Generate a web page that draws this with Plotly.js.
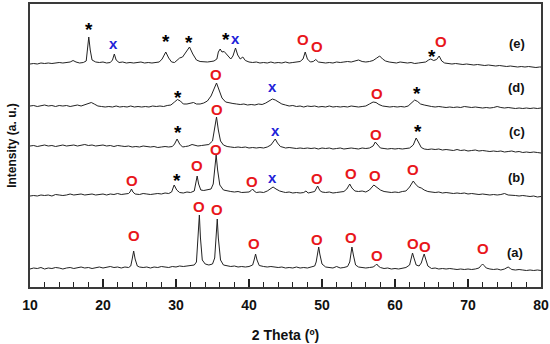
<!DOCTYPE html>
<html>
<head>
<meta charset="utf-8">
<script src="https://cdn.plot.ly/plotly-3.0.1.min.js"></script>
<style>html,body{margin:0;padding:0;background:#fff}#chart{width:550px;height:344px}</style>
</head>
<body>
<div id="chart"></div>
<script>
// XRD patterns: [2theta, intensity (a.u., stacked offsets)]
const seriesA = [[10,19],[10.5,20],[11,19.5],[11.5,20.5],[12,19],[12.5,20],[13,19.5],[13.5,20.5],[14,20],[14.5,19],[15,20],[15.5,20.5],[16,19.5],[16.5,20],[17,21],[17.5,20],[18,20.5],[18.5,19.5],[19,20],[19.5,21],[20,20],[20.5,20.5],[21,21.5],[21.5,20.5],[22,21],[22.5,20],[23,21],[23.5,20.5],[23.8,22],[24.0,29],[24.2,37],[24.4,29],[24.7,22],[25,21],[25.5,20.5],[26,21],[26.5,20],[27,21],[27.5,20.5],[28,21.5],[28.5,21],[29,20.5],[29.5,21.5],[30,21],[30.5,22],[31,21.5],[31.5,22],[32,22.5],[32.5,23],[32.8,26],[33.05,50],[33.2,73],[33.35,50],[33.6,28],[34,24],[34.5,23],[35,24],[35.3,30],[35.5,52],[35.65,69],[35.8,50],[36.1,28],[36.5,23],[37,22],[37.5,21.5],[38,22],[38.5,21],[39,21.5],[39.5,21],[40,21.5],[40.5,23],[40.7,28],[40.9,34],[41.1,28],[41.4,22.5],[42,21.5],[42.5,21],[43,21.5],[43.5,21],[44,20.5],[44.5,21],[45,20],[45.5,20.5],[46,20],[46.5,21],[47,20],[47.5,20.5],[48,20],[48.5,21],[49,22],[49.2,26],[49.4,36],[49.55,41],[49.7,34],[50,24],[50.5,21],[51,20.5],[51.5,20],[52,21.5],[52.5,20],[53,20.5],[53.5,21.5],[53.8,26],[54.0,37],[54.1,41],[54.3,33],[54.6,23],[55,21],[55.5,20.5],[56,20],[56.5,20.5],[57,21],[57.3,22.5],[57.5,24],[57.7,22],[58,20.5],[58.5,19.5],[59,20],[59.5,19],[60,19.5],[60.5,19],[61,20],[61.5,20.5],[62,23],[62.2,29],[62.4,35],[62.6,30],[62.9,23],[63.3,22],[63.6,25],[63.85,31],[64.0,34],[64.2,29],[64.5,22],[65,19.5],[65.5,20],[66,19],[66.5,19.5],[67,19],[67.5,19.5],[68,19],[68.5,18.5],[69,19],[69.5,18.5],[70,19],[70.5,18.5],[71,19],[71.5,20],[71.8,22.5],[72.0,24],[72.2,22.5],[72.5,20],[73,19],[73.5,18.5],[74,19],[74.5,18],[75,19],[75.3,20.5],[75.5,21],[75.8,19.5],[76,18.5],[76.5,18],[77,18.5],[77.5,18],[78,17.5],[78.5,18],[79,17.5],[79.5,18],[80,17.5]];

const seriesB = [[10,92],[10.5,92.5],[11,92],[11.5,93],[12,92.5],[12.5,93],[13,92],[13.5,93.5],[14,93],[14.5,92.5],[15,93],[15.5,94],[16,93],[16.5,93.5],[17,94],[17.5,93],[18,93.5],[18.5,94],[19,93],[19.5,93.5],[20,94],[20.5,93],[21,94],[21.5,93.5],[22,94.5],[22.5,93.5],[23,94],[23.5,94.5],[23.7,96],[23.9,99],[24.1,96],[24.4,94],[25,93.5],[25.5,94.5],[26,94],[26.5,93.5],[27,94],[27.5,94.5],[28,94],[28.5,95],[29,94.5],[29.4,96],[29.75,103],[30.1,98],[30.5,95.5],[31,95],[31.5,96],[32,95.5],[32.5,97],[32.75,106],[32.9,112],[33.1,104],[33.4,98],[33.8,97.5],[34.3,98],[34.8,99],[35.1,104],[35.35,122],[35.5,133],[35.7,118],[36,103],[36.5,98],[37,97],[37.5,96.5],[38,96],[38.5,96.5],[39,95.5],[39.5,96],[40,96],[40.3,97.5],[40.5,99],[40.7,97],[41,95.5],[41.5,96],[42,95.5],[42.5,97],[43,100],[43.3,101],[43.7,99],[44.2,97],[44.7,96],[45,95.5],[45.5,96],[46,95],[46.5,95.5],[47,95],[47.5,95.5],[47.8,97],[48.1,95],[48.5,95.5],[49,96.5],[49.4,102],[49.7,97.5],[50,96],[50.5,95.5],[51,96],[51.5,95],[52,95.5],[52.5,96],[53,96.5],[53.4,99],[53.8,104],[54.1,100],[54.5,97],[55,96.5],[55.5,97],[56,96],[56.5,98],[57.1,103],[57.5,101],[58,98],[58.5,96.5],[59,96],[59.5,95.5],[60,96],[60.5,95.5],[61,96.5],[61.5,97],[62,101],[62.5,107],[62.8,104],[63.2,101],[63.6,100],[64,98],[64.5,96.5],[65,96],[65.5,95.5],[66,96],[66.5,95],[67,95.5],[67.5,95],[68,94.5],[68.5,95],[69,94.5],[69.5,95],[70,94],[70.5,94.5],[71,94],[71.5,93.5],[72,94],[72.5,93.5],[73,93],[73.5,93.5],[74,93],[74.5,93.5],[75,94.5],[75.5,93],[76,93],[76.5,92.5],[77,92],[77.5,92.5],[78,92],[78.5,91.5],[79,92],[79.5,91],[80,91.5]];

const seriesC = [[10,142],[10.5,142.5],[11,141.5],[11.5,142],[12,143],[12.5,142],[13,142.5],[13.5,141.5],[14,142.5],[14.5,143],[15,142],[15.5,142.5],[16,143],[16.5,142],[17,142.5],[17.5,143.5],[18,142.5],[18.5,143],[19,142],[19.5,142.5],[20,143],[20.5,142],[21,142.5],[21.5,141.5],[22,142.5],[22.5,142],[23,141.5],[23.5,142],[24,141],[24.5,141.5],[25,141],[25.5,142],[26,141.5],[26.5,141],[27,141.5],[27.5,140.5],[28,141],[28.5,141.5],[29,141],[29.5,141.5],[29.8,144],[30.15,149],[30.5,144],[30.9,141],[31.3,141.5],[31.7,142],[32.2,143.5],[32.6,142.5],[33,142],[33.5,142.5],[34,143],[34.5,143.5],[35,147],[35.3,158],[35.55,171],[35.8,158],[36.1,147],[36.5,143],[37,141.5],[37.5,141],[38,140.5],[38.5,141],[39,140.5],[39.5,141],[40,140],[40.5,140.5],[41,140],[41.5,140.5],[42,140],[42.5,141],[43,143],[43.3,146],[43.6,149],[43.9,145],[44.3,141.5],[44.8,140.5],[45,140],[45.5,140.5],[46,140],[46.5,139.5],[47,140],[47.5,139.5],[48,140],[48.5,139.5],[49,140],[49.5,139],[50,140],[50.5,139.5],[51,140],[51.5,139],[52,139.5],[52.5,140],[53,139],[53.5,139.5],[54,140],[54.5,139.5],[55,139],[55.5,140],[56,139.5],[56.5,140],[57,142],[57.3,146],[57.6,143],[58,140],[58.5,139.5],[59,139],[59.5,139.5],[60,139],[60.5,139.5],[61,139],[61.5,139.5],[62,140],[62.5,143],[62.9,150],[63.2,146],[63.6,140.5],[64,139],[64.5,138.5],[65,139],[65.5,138.5],[66,139],[66.5,138],[67,138.5],[67.5,138],[68,137.5],[68.5,138.5],[69,137.5],[69.5,138],[70,137],[70.5,137.5],[71,138],[71.5,137],[72,137.5],[72.5,137],[73,136.5],[73.5,137],[74,136.5],[74.5,137],[75,136],[75.5,136.5],[76,137],[76.5,136],[77,136.5],[77.5,135.5],[78,136],[78.5,135.5],[79,136],[79.5,135.5],[80,135]];

const seriesD = [[10,182],[10.5,182.5],[11,181.5],[11.5,182],[12,183],[12.5,182],[13,182.5],[13.5,181.5],[14,182.5],[14.5,182],[15,182.5],[15.5,181.5],[16,182],[16.5,183],[17,182],[17.5,183],[18,184.5],[18.4,185.5],[18.8,184],[19.3,182],[19.8,181.5],[20.3,181],[20.8,181.5],[21.3,181],[21.8,182],[22.3,181],[22.8,181.5],[23.3,181],[23.8,182],[24.3,181],[24.8,181.5],[25.3,181],[25.8,181.5],[26.3,181],[26.8,182],[27.3,181.5],[27.8,182],[28.3,181.5],[28.8,182.5],[29.3,183],[29.8,186],[30.2,188.5],[30.6,187],[31,184],[31.5,184],[32,185],[32.4,185.5],[32.8,184],[33.3,184],[33.8,185],[34.3,187],[34.8,192],[35.2,200],[35.55,205],[35.9,198],[36.3,190],[36.8,186],[37.3,185],[37.8,184.5],[38.3,184],[38.8,183.5],[39.3,184],[39.8,183],[40.3,183.5],[40.8,183],[41.3,184],[41.8,183.5],[42.3,185],[42.8,187.5],[43.2,189],[43.6,188],[44,186],[44.5,184],[45,183],[45.5,182],[46,182.5],[46.5,181.5],[47,182],[47.5,181],[48,182],[48.5,181.5],[49,182],[49.5,181],[50,181.5],[50.5,181],[51,182],[51.5,181],[52,181.5],[52.5,181],[53,181.5],[53.5,181],[54,182],[54.5,181.5],[55,181],[55.5,181.5],[56,182],[56.5,184],[57,186],[57.4,185.5],[57.8,183.5],[58.3,182],[58.8,181.5],[59.3,181],[59.8,181.5],[60.3,181],[60.8,181.5],[61.3,181],[61.8,182],[62.3,185],[62.7,188],[63.1,186.5],[63.5,184],[64,183],[64.5,182],[65,181.5],[65.5,181],[66,181.5],[66.5,181],[67,180.5],[67.5,181],[68,180.5],[68.5,181],[69,180.5],[69.5,181.5],[70,181],[70.5,180.5],[71,181],[71.5,180.5],[72,180],[72.5,180.5],[73,180],[73.5,180.5],[74,181.5],[74.5,180.5],[75,180],[75.5,180.5],[76,180],[76.5,179.5],[77,180],[77.5,179.5],[78,180],[78.5,179.5],[79,180],[79.5,179.5],[80,180]];

const seriesE = [[10,224],[10.5,224.5],[11,224],[11.5,225],[12,224.5],[12.5,225],[13,224.5],[13.5,225],[14,225.5],[14.5,225],[15,225.5],[15.5,226],[15.9,227.5],[16.3,226],[16.8,225],[17.3,225.5],[17.7,227],[17.9,240],[18.05,251],[18.25,238],[18.5,228],[19,226],[19.5,225.5],[20,226],[20.5,225],[21,225.5],[21.3,228],[21.55,234],[21.8,228],[22.2,225.5],[22.7,226],[23.2,225],[23.7,225.5],[24.2,225],[24.7,225.5],[25.2,226],[25.7,225],[26.2,225.5],[26.7,225],[27.2,225.5],[27.7,226],[28.1,229],[28.6,236],[29,230],[29.4,226],[29.8,225.5],[30.2,228],[30.5,230],[30.9,231],[31.4,236],[31.85,241],[32.3,234],[32.8,228],[33.3,226.5],[33.8,226],[34.3,226],[34.8,226.5],[35.2,227],[35.6,229],[35.8,236],[36.05,239],[36.3,236],[36.6,236.5],[36.9,234],[37.2,231],[37.5,229],[37.8,232],[38.15,240],[38.45,233],[38.8,229],[39.15,231],[39.5,227.5],[40,226],[40.5,225.5],[41,226],[41.5,225],[42,225.5],[42.5,225],[43,226],[43.5,225],[44,225.5],[44.5,225],[45,226],[45.5,225],[46,225.5],[46.5,226],[47,226.5],[47.4,229],[47.7,236],[48,229],[48.4,226],[48.8,226.5],[49.15,228.5],[49.5,226],[50,225.5],[50.5,225],[51,225.5],[51.5,225],[52,226],[52.5,225.5],[53,226],[53.5,226.5],[54,226],[54.5,227],[55,228],[55.5,226.5],[56,226],[56.5,226.5],[57,227.5],[57.5,230],[57.9,232],[58.3,229],[58.7,227],[59.2,226],[59.7,225.5],[60.2,225],[60.7,226],[61.2,225.5],[61.7,225],[62.2,225.5],[62.7,224.5],[63.2,225],[63.7,225.5],[64.2,226],[64.6,228],[64.9,229],[65.3,227.5],[65.7,228.5],[66.05,232],[66.4,227],[66.8,225],[67.3,224.5],[67.8,224],[68.3,224.5],[68.8,224],[69.3,223.5],[69.8,224],[70.3,223.5],[70.8,223],[71.3,223.5],[71.8,223],[72.3,222.5],[72.8,223],[73.3,222.5],[73.8,222],[74.3,222.5],[74.8,222],[75.3,221.5],[75.8,222],[76.3,221.5],[76.8,221],[77.3,221.5],[77.8,221],[78.3,221.5],[78.8,221],[79.3,220.5],[79.8,221],[80,221]];

// Phase markers: symbol, 2theta, intensity
const markSym = ['*','x','*','*','*','x','O','O','*','O',
                 '*','O','x','O','*',
                 '*','O','x','O','*',
                 'O','*','O','O','O','x','O','O','O','O',
                 'O','O','O','O','O','O','O','O','O','O'];
const markX = [18.1,21.5,28.6,31.8,36.85,38.1,47.4,49.3,65.1,66.3,
               30.3,35.5,43.2,57.5,63.0,
               30.3,35.6,43.6,57.4,63.2,
               24.0,30.1,32.9,35.5,40.4,43.2,49.3,54.0,57.3,62.5,
               24.2,33.15,35.6,40.7,49.3,54.0,57.5,62.5,64.1,72.0];
const markY = [263,244,251,250,253,249,249,242,236,247,
               195,214,201,195,199,
               160,179,157,154,161,
               108,112,123,139,107,110,110,115,113,119,
               53,82,79,45,49,51,33,45,42,40];

// Pattern labels
const labelText = ['(a)','(b)','(c)','(d)','(e)'];
const labelX = [76.5,76.7,76.7,76.7,76.7];
const labelY = [36,111,157,201,245];

const xTicks = [10,20,30,40,50,60,70,80];

const series = [seriesA, seriesB, seriesC, seriesD, seriesE];
const traces = series.map(s => ({
  x: s.map(p => p[0]),
  y: s.map(p => p[1]),
  type: 'scatter', mode: 'lines',
  line: {color: '#222222', width: 1},
  hoverinfo: 'skip', showlegend: false
}));

const symStyle = {
  '*': {color: '#000000', size: 19, yshift: -4},
  'x': {color: '#2222d8', size: 15, yshift: 1},
  'O': {color: '#e8161b', size: 15, yshift: 0}
};
const fam = 'Liberation Sans, Arial, sans-serif';
const annotations = markSym.map((s, i) => ({
  x: markX[i], y: markY[i], xref: 'x', yref: 'y', text: '<b>' + s + '</b>', showarrow: false,
  xanchor: 'center', yanchor: 'middle', yshift: symStyle[s].yshift,
  font: {family: fam, size: symStyle[s].size, color: symStyle[s].color}
}));
labelText.forEach((t, i) => annotations.push({
  x: labelX[i], y: labelY[i], xref: 'x', yref: 'y', text: '<b>' + t + '</b>', showarrow: false,
  xanchor: 'center', yanchor: 'middle',
  font: {family: fam, size: 13, color: '#111'}
}));

const layout = {
  width: 550, height: 344,
  margin: {l: 30, r: 9, t: 4, b: 57, pad: 0},
  paper_bgcolor: '#fff', plot_bgcolor: '#fff',
  showlegend: false,
  xaxis: {
    range: [10, 80], tickvals: xTicks, ticktext: xTicks.map(v => '<b>' + v + '</b>'),
    ticks: 'inside', ticklen: 8, tickwidth: 1.2, tickcolor: '#222', ticklabelstandoff: 4,
    minor: {dtick: 2, ticks: 'inside', ticklen: 5, tickwidth: 1, tickcolor: '#222', showgrid: false},
    showgrid: false, zeroline: false, showline: true, mirror: true, linecolor: '#3a3a3a', linewidth: 2,
    tickfont: {family: fam, size: 14, color: '#111'},
    title: {text: '<b>2 Theta (º)</b>', standoff: 18, font: {family: fam, size: 14, color: '#111'}},
    automargin: false
  },
  yaxis: {
    range: [1, 284], showticklabels: false, ticks: '', showgrid: false, zeroline: false,
    showline: true, mirror: true, linecolor: '#3a3a3a', linewidth: 2,
    title: {text: '<b>Intensity (a. u.)</b>', standoff: 9, font: {family: fam, size: 12, color: '#111'}},
    automargin: false
  },
  annotations: annotations
};

Plotly.newPlot('chart', traces, layout, {displayModeBar: false, staticPlot: true});
</script>
</body>
</html>
